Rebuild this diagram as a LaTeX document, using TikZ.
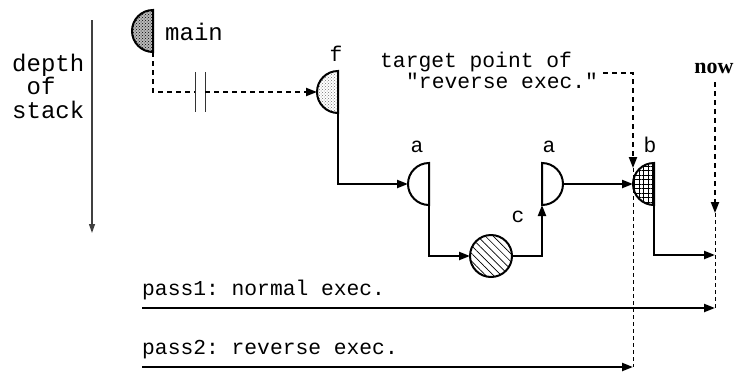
\documentclass[tikz,border=0pt]{standalone}
\usepackage{fontspec}
\setmonofont{Liberation Mono}
\newfontfamily\nowfont{Liberation Serif}
\usetikzlibrary{arrows.meta,patterns,patterns.meta}
\begin{document}
\begin{tikzpicture}[x=1pt,y=-1pt,
  conn/.style={line width=2.2pt},
  dconn/.style={line width=2pt,dash pattern=on 5pt off 4pt},
  tdash/.style={line width=0.9pt,dash pattern=on 4pt off 3pt},
  tip/.style={-{Triangle[length=11pt,width=8pt]}},
  shp/.style={line width=2pt},
  lbl/.style={font=\fontsize{21.3}{24}\selectfont\ttfamily,inner sep=0pt},
  big/.style={font=\fontsize{24}{24}\selectfont\ttfamily,inner sep=0pt}]
\useasboundingbox (0,0) rectangle (737,373);
% axis
\coordinate (axT) at (92,20);
\coordinate (axB) at (92,233);
\draw[line width=1.2pt,black!75,-{Triangle[length=9pt,width=6pt]}] (axT) -- (axB);
\node[big,anchor=base west] (d1) at (12,71) {depth};
\node[big,anchor=base west] (d2) at (12,94) {\ of};
\node[big,anchor=base west] (d3) at (12,118) {stack};
% shapes
\path[shp,draw,fill=gray!55] (153,10) arc[start angle=270,end angle=90,radius=21] -- cycle;
\path[pattern=crosshatch dots,pattern color=black] (153,10) arc[start angle=270,end angle=90,radius=21] -- cycle;
\coordinate (mainS) at (153,52);
\node[big,anchor=base west] (mainlbl) at (165,40) {main};

\path[pattern=crosshatch dots,pattern color=black!55] (338,71) arc[start angle=270,end angle=90,radius=21] -- cycle;
\path[shp,draw] (338,71) arc[start angle=270,end angle=90,radius=21] -- cycle;
\coordinate (fW) at (317,92);
\coordinate (fS) at (338,113);
\node[lbl,anchor=base] (flbl) at (336,61) {f};

\path[shp,draw,fill=white] (429,163) arc[start angle=270,end angle=90,radius=21] -- cycle;
\coordinate (a1W) at (408,184);
\coordinate (a1S) at (429,205);
\node[lbl,anchor=base] (a1lbl) at (417,152) {a};

\path[pattern={Lines[angle=-45,distance=5.5pt,line width=0.7pt]}] (491,256) circle[radius=21];
\path[shp,draw] (491,256) circle[radius=21];
\coordinate (cW) at (470,256);
\coordinate (cE) at (512,256);
\node[lbl,anchor=base] (clbl) at (518,222) {c};

\path[shp,draw,fill=white] (542,163) arc[start angle=270,end angle=450,radius=21] -- cycle;
\coordinate (a2S) at (542,205);
\coordinate (a2E) at (563,184);
\node[lbl,anchor=base] (a2lbl) at (549,152) {a};

\path[pattern={Hatch[angle=0,distance=4.5pt,line width=0.8pt]}] (654,163) arc[start angle=270,end angle=90,radius=21] -- cycle;
\path[shp,draw] (654,163) arc[start angle=270,end angle=90,radius=21] -- cycle;
\coordinate (bW) at (633,184);
\coordinate (bS) at (654,205);
\node[lbl,anchor=base] (blbl) at (650,152) {b};

% bars
\coordinate (bar1T) at (195,72);
\coordinate (bar1B) at (195,112);
\coordinate (bar1M) at (195,92);
\coordinate (bar2T) at (205,72);
\coordinate (bar2B) at (205,112);
\coordinate (bar2M) at (205,92);
\draw[line width=1pt,black!80] (bar1T) -- (bar1B);
\draw[line width=1pt,black!80] (bar2T) -- (bar2B);

% connectors
\draw[dconn] (mainS) |- (bar1M);
\draw[dconn,tip] (bar2M) -- (fW);
\draw[conn,tip] (fS) |- (a1W);
\draw[conn,tip] (a1S) |- (cW);
\draw[conn,tip] (cE) -| (a2S);
\draw[conn,tip] (a2E) -- (bW);
\coordinate (nowEnd) at (715,255);
\draw[conn,tip] (bS) |- (nowEnd);

% now
\node[font=\fontsize{22}{24}\selectfont\nowfont\bfseries,anchor=base,inner sep=0pt] (now) at (714,73) {now};
\coordinate (nowTop) at (715,82);
\coordinate (nowArr) at (715,213);
\draw[dconn,tip] (nowTop) -- (nowArr);

% target
\node[lbl,anchor=base west] (tgt1) at (380,67) {target point of};
\node[lbl,anchor=base west] (tgt2) at (406,88) {"reverse exec."};
\coordinate (tgtS) at (603,73);
\coordinate (tgtArr) at (633,168);
\draw[dconn,tip] (tgtS) -| (tgtArr);

% passes
\node[lbl,anchor=base west] (p1) at (142,295) {pass1: normal exec.};
\node[lbl,anchor=base west] (p2) at (142,354) {pass2: reverse exec.};
\coordinate (p1W) at (142,308);
\coordinate (p1E) at (715,308);
\coordinate (p2W) at (142,367);
\coordinate (p2E) at (633,367);
\draw[tdash] (nowArr) -- (p1E);
\draw[tdash] (tgtArr) -- (p2E);
\draw[conn,tip] (p1W) -- (p1E);
\draw[conn,tip] (p2W) -- (p2E);
\end{tikzpicture}
\end{document}
